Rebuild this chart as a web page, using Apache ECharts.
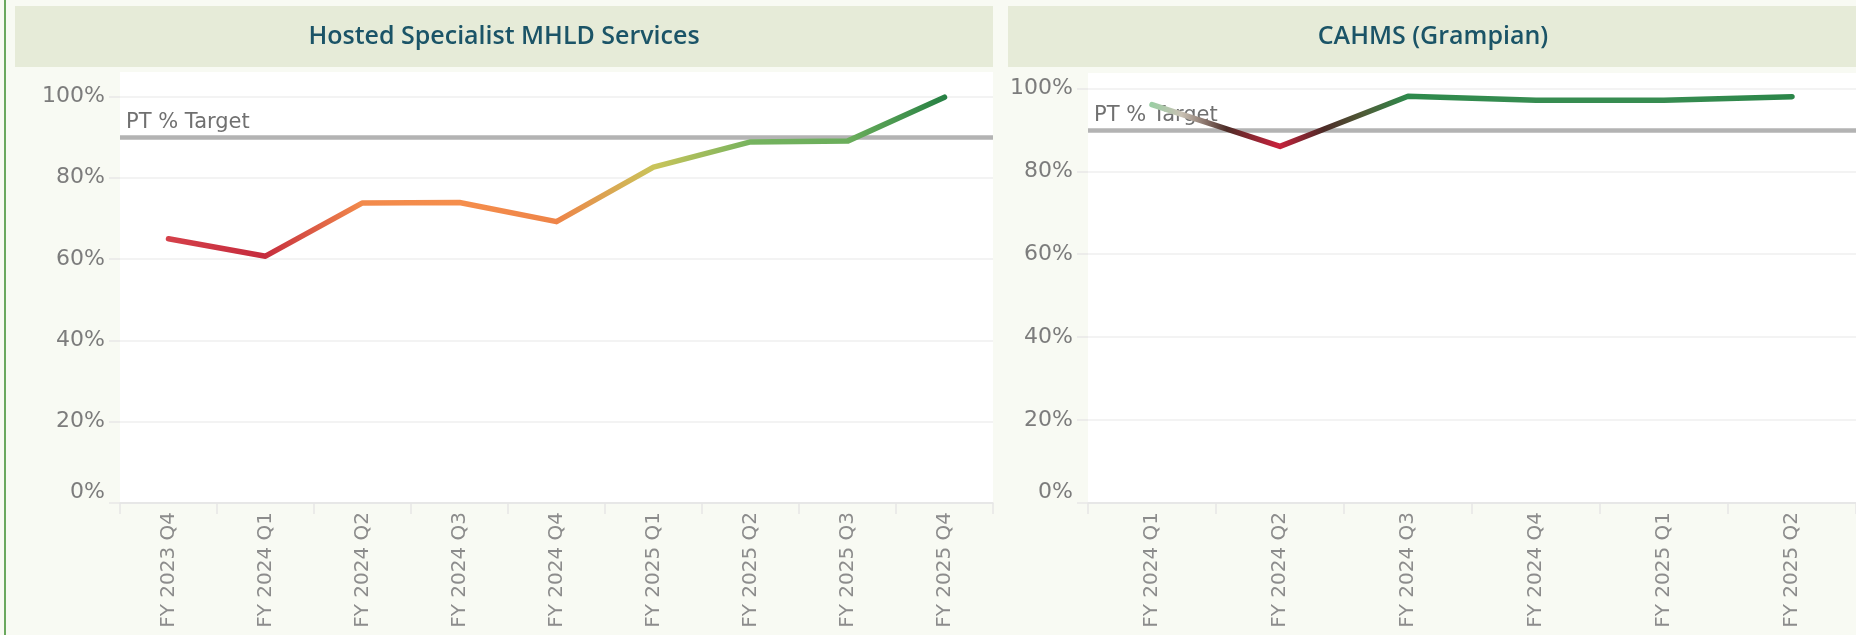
<!DOCTYPE html>
<html>
<head>
<meta charset="utf-8">
<script src="https://cdn.jsdelivr.net/npm/echarts@6/dist/echarts.min.js"></script>
<style>
  html, body { margin: 0; padding: 0; background: #f8faf3; }
  #chart { width: 1856px; height: 635px; }
</style>
</head>
<body>
<div id="chart"></div>
<script>
// data (percent)
const hostedQuarters = ['FY 2023 Q4', 'FY 2024 Q1', 'FY 2024 Q2', 'FY 2024 Q3', 'FY 2024 Q4',
  'FY 2025 Q1', 'FY 2025 Q2', 'FY 2025 Q3', 'FY 2025 Q4']
const hostedValues = [65.0, 60.7, 73.8, 73.9, 69.2, 82.6, 88.8, 89.0, 99.8]

const cahmsQuarters = ['FY 2024 Q1', 'FY 2024 Q2', 'FY 2024 Q3', 'FY 2024 Q4', 'FY 2025 Q1', 'FY 2025 Q2']
const cahmsValues = [96.1, 86.0, 98.1, 97.1, 97.1, 98.0]

const ptTarget = 90
const targetLabel = 'PT % Target'

// colour stops along the line, [position in categories, colour]
const hostedStops = [
  [0, '#d5414a'], [1, '#c52b3d'], [2, '#f28a4b'], [3, '#f58e4c'], [4, '#ee8448'],
  [5, '#c9c45a'], [6, '#75b35f'], [7, '#6aad5b'], [8, '#257f43']
]
const cahmsStops = [
  [0, '#98cfa3'], [0.25, '#c9c1b4'], [0.6, '#4e2d28'], [1, '#c9213c'],
  [1.35, '#4c2a27'], [1.65, '#4f5a36'], [2, '#2e8a4c'], [3, '#378c51'],
  [4, '#378c51'], [5, '#2b8649']
]

const gradient = (stops, n) => ({
  type: 'linear', x: 0, y: 0, x2: 1, y2: 0,
  colorStops: stops.map(([i, c]) => ({ offset: i / (n - 1), color: c }))
})

const labelFont = 'DejaVu Sans'

const xAxisFor = (idx, cats) => ({
  type: 'category',
  gridIndex: idx,
  data: cats,
  boundaryGap: true,
  axisLine: { lineStyle: { color: '#e3e3e3', width: 1.5 } },
  axisTick: { show: true, length: 11, lineStyle: { color: '#e6e6e6', width: 1.5 } },
  axisLabel: { rotate: 90, margin: 9, fontFamily: labelFont, fontSize: 20, color: '#8c8c8c' },
  splitLine: { show: false }
})

const yAxisFor = (idx, max) => ({
  type: 'value',
  gridIndex: idx,
  min: 0,
  max: max,
  interval: 20,
  axisLine: { show: false },
  axisTick: { show: true, length: 11, lineStyle: { color: '#e8e8e8', width: 1.5 } },
  axisLabel: {
    formatter: '{value}%', margin: 15, fontFamily: labelFont, fontSize: 22, color: '#7c7c7c',
    showMaxLabel: false, verticalAlignMinLabel: 'bottom'
  },
  splitLine: { showMaxLine: false, lineStyle: { color: '#efefef', width: 1.5 } }
})

const seriesFor = (idx, values, stops) => ({
  type: 'line',
  xAxisIndex: idx,
  yAxisIndex: idx,
  data: values,
  showSymbol: false,
  symbol: 'none',
  clip: false,
  z: 3,
  lineStyle: { width: 5.5, cap: 'round', join: 'round', color: gradient(stops, values.length) },
  markLine: {
    silent: true,
    z: 1,
    symbol: ['none', 'none'],
    lineStyle: { color: '#b3b3b3', width: 4.5, type: 'solid' },
    label: {
      show: true, position: 'insideStartTop', formatter: targetLabel,
      fontFamily: labelFont, fontSize: 21, color: '#707070', distance: [6, 4]
    },
    data: [{ yAxis: ptTarget }]
  }
})

const chart = echarts.init(document.getElementById('chart'))
chart.setOption({
  animation: false,
  backgroundColor: '#f8faf3',
  graphic: [
    { type: 'rect', shape: { x: 4, y: 0, width: 2, height: 635 }, style: { fill: '#6aa85e' } },
    { type: 'rect', shape: { x: 15, y: 6, width: 978, height: 61 }, style: { fill: '#e6ebd8' } },
    { type: 'rect', shape: { x: 1008, y: 6, width: 860, height: 61 }, style: { fill: '#e6ebd8' } },
    {
      type: 'text', x: 504, y: 37,
      style: { text: 'Hosted Specialist MHLD Services', fill: '#1b5467', font: '600 25px "Open Sans"', align: 'center', verticalAlign: 'middle' }
    },
    {
      type: 'text', x: 1433, y: 37,
      style: { text: 'CAHMS (Grampian)', fill: '#1b5467', font: '600 25px "Open Sans"', align: 'center', verticalAlign: 'middle' }
    }
  ],
  grid: [
    { left: 120, top: 72, width: 873, bottom: 132, show: true, backgroundColor: '#ffffff', borderWidth: 0 },
    { left: 1088, top: 73, right: -3, bottom: 132, show: true, backgroundColor: '#ffffff', borderWidth: 0 }
  ],
  xAxis: [xAxisFor(0, hostedQuarters), xAxisFor(1, cahmsQuarters)],
  yAxis: [yAxisFor(0, 106), yAxisFor(1, 103.7)],
  series: [seriesFor(0, hostedValues, hostedStops), seriesFor(1, cahmsValues, cahmsStops)]
})
</script>
</body>
</html>
